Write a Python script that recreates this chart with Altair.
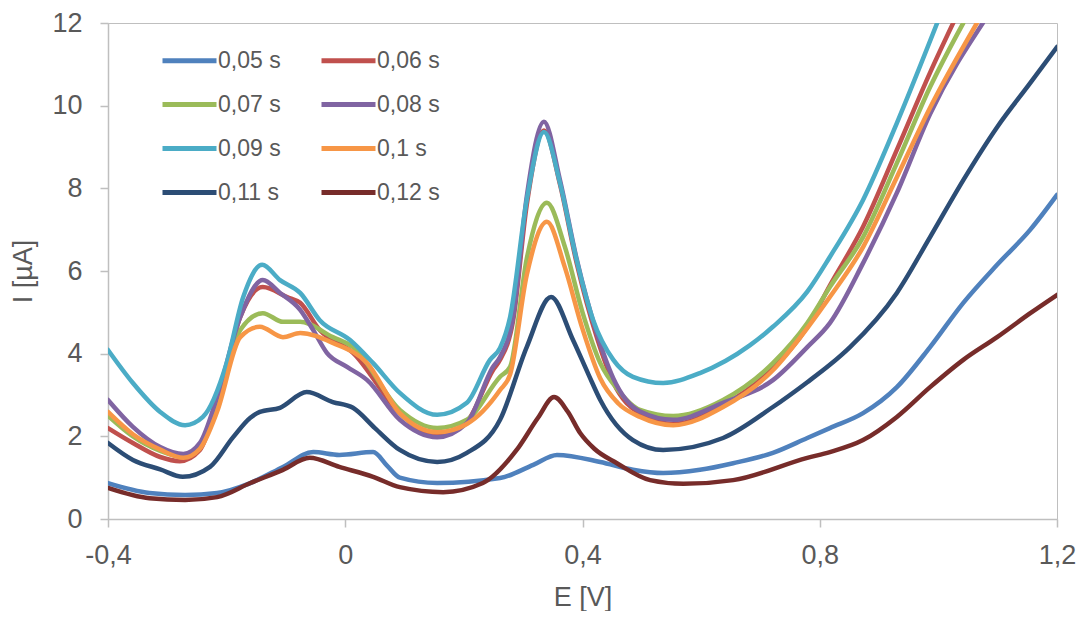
import altair as alt
import pandas as pd

# Series labels and colours
series = ["0,05 s", "0,06 s", "0,07 s", "0,08 s", "0,09 s", "0,1 s", "0,11 s", "0,12 s"]
colors = ["#4F81BD", "#C0504D", "#9BBB59", "#8064A2", "#4BACC6", "#F79646", "#2C4D75", "#772C2A"]

# 0,05 s
e005 = [-0.4, -0.33, -0.27, -0.216, -0.16, -0.105, -0.054, -0.01, 0.047, 0.07, 0.092, 0.155, 0.261, 0.317, 0.357,
        0.43, 0.485, 0.536, 0.598, 0.654, 0.721, 0.779, 0.817, 0.873, 0.93, 0.986, 1.042, 1.099, 1.155, 1.2]
i005 = [0.87, 0.63, 0.58, 0.63, 0.87, 1.26, 1.62, 1.55, 1.62, 1.3, 1.0, 0.87, 0.99, 1.31, 1.55,
        1.38, 1.19, 1.11, 1.19, 1.35, 1.6, 1.96, 2.2, 2.56, 3.19, 4.16, 5.23, 6.15, 7.0, 7.84]

# 0,06 s
e006 = [-0.4, -0.358, -0.312, -0.279, -0.245, -0.216, -0.177, -0.139, -0.098, -0.076, -0.043, 0.013, 0.092, 0.155,
        0.205, 0.249, 0.261, 0.283, 0.306, 0.335, 0.362, 0.39, 0.424, 0.452, 0.497, 0.553, 0.637, 0.721, 0.779,
        0.817, 0.873, 0.93, 0.986, 1.025]
i006 = [2.2, 1.84, 1.5, 1.4, 1.67, 2.81, 4.89, 5.61, 5.37, 5.23, 4.57, 4.02, 2.56, 2.0,
        2.35, 3.6, 3.85, 4.8, 7.6, 9.4, 8.1, 6.2, 4.4, 3.3, 2.55, 2.3, 2.75, 3.65, 4.65,
        5.65, 7.07, 8.93, 10.8, 12.0]

# 0,07 s
e007 = [-0.4, -0.358, -0.312, -0.273, -0.245, -0.216, -0.177, -0.139, -0.105, -0.076, -0.021, 0.013, 0.092, 0.155,
        0.205, 0.261, 0.278, 0.306, 0.34, 0.37, 0.40, 0.43, 0.46, 0.497, 0.553, 0.637, 0.721, 0.779, 0.817,
        0.873, 0.93, 0.986, 1.042]
i007 = [2.5, 2.0, 1.65, 1.5, 1.75, 2.75, 4.57, 4.98, 4.77, 4.77, 4.4, 4.16, 2.64, 2.2,
        2.4, 3.44, 3.68, 6.3, 7.65, 6.6, 5.0, 3.77, 3.12, 2.64, 2.49, 2.88, 3.77, 4.74, 5.61,
        6.82, 8.61, 10.45, 12.0]

# 0,08 s
e008 = [-0.4, -0.358, -0.312, -0.273, -0.245, -0.216, -0.177, -0.139, -0.11, -0.076, -0.054, -0.031, 0.003, 0.037,
        0.092, 0.155, 0.205, 0.249, 0.261, 0.283, 0.306, 0.335, 0.362, 0.39, 0.424, 0.452, 0.497, 0.553, 0.637,
        0.721, 0.779, 0.817, 0.873, 0.93, 0.986, 1.075]
i008 = [2.88, 2.23, 1.74, 1.57, 1.84, 2.95, 4.89, 5.78, 5.47, 5.06, 4.57, 4.02, 3.68, 3.36,
        2.4, 1.98, 2.32, 3.68, 3.92, 4.89, 7.8, 9.61, 8.2, 6.3, 4.5, 3.4, 2.6, 2.4, 2.81,
        3.36, 4.16, 4.74, 6.19, 7.89, 9.8, 12.0]

# 0,09 s
e009 = [-0.4, -0.358, -0.312, -0.27, -0.24, -0.2, -0.172, -0.14, -0.11, -0.076, -0.043, 0.008, 0.047, 0.092,
        0.155, 0.205, 0.244, 0.261, 0.278, 0.306, 0.335, 0.362, 0.39, 0.418, 0.452, 0.485, 0.536, 0.598,
        0.682, 0.721, 0.779, 0.817, 0.873, 0.93, 0.998]
i009 = [4.09, 3.29, 2.59, 2.27, 2.47, 3.77, 5.37, 6.15, 5.78, 5.47, 4.81, 4.33, 3.77, 3.05,
        2.52, 2.81, 3.85, 4.14, 4.89, 7.72, 9.36, 8.13, 6.27, 4.81, 3.85, 3.44, 3.29, 3.53,
        4.2, 4.65, 5.5, 6.34, 7.72, 9.58, 12.0]

# 0,1 s
e010 = [-0.4, -0.358, -0.312, -0.273, -0.245, -0.216, -0.177, -0.144, -0.105, -0.076, -0.021, 0.037, 0.092, 0.155,
        0.205, 0.261, 0.278, 0.306, 0.34, 0.37, 0.40, 0.43, 0.46, 0.497, 0.553, 0.637, 0.721, 0.779, 0.817,
        0.873, 0.93, 0.986, 1.065]
i010 = [2.59, 2.05, 1.68, 1.48, 1.7, 2.6, 4.4, 4.65, 4.4, 4.5, 4.26, 3.77, 2.56, 2.1,
        2.3, 3.12, 3.5, 5.9, 7.19, 6.1, 4.6, 3.4, 2.8, 2.47, 2.27, 2.71, 3.6, 4.62, 5.37,
        6.58, 8.27, 9.95, 12.0]

# 0,11 s
e011 = [-0.4, -0.358, -0.312, -0.274, -0.228, -0.189, -0.16, -0.144, -0.11, -0.065, -0.021, 0.013, 0.05, 0.092,
        0.155, 0.205, 0.261, 0.306, 0.347, 0.384, 0.41, 0.43, 0.485, 0.536, 0.637, 0.721, 0.779, 0.817, 0.851,
        0.93, 0.986, 1.042, 1.099, 1.155, 1.2]
i011 = [1.84, 1.43, 1.2, 1.02, 1.26, 1.98, 2.45, 2.59, 2.69, 3.07, 2.83, 2.69, 2.2, 1.67,
        1.38, 1.6, 2.4, 4.16, 5.37, 4.33, 3.5, 2.88, 1.91, 1.67, 1.96, 2.71, 3.31, 3.73, 4.16,
        5.47, 6.82, 8.2, 9.48, 10.55, 11.42]

# 0,12 s
e012 = [-0.4, -0.33, -0.27, -0.216, -0.16, -0.105, -0.06, -0.01, 0.047, 0.092, 0.165, 0.232, 0.289, 0.325, 0.352,
        0.375, 0.396, 0.42, 0.458, 0.514, 0.57, 0.654, 0.779, 0.817, 0.873, 0.93, 0.986, 1.042, 1.099, 1.155, 1.2]
i012 = [0.75, 0.5, 0.46, 0.53, 0.87, 1.19, 1.48, 1.26, 1.02, 0.77, 0.65, 0.87, 1.67, 2.45, 2.95,
        2.6, 2.08, 1.7, 1.35, 0.94, 0.85, 0.94, 1.48, 1.62, 1.91, 2.47, 3.19, 3.85, 4.4, 4.98, 5.42]

x_ticks = [-0.4, 0, 0.4, 0.8, 1.2]
y_ticks = [0, 2, 4, 6, 8, 10, 12]

all_e = [e005, e006, e007, e008, e009, e010, e011, e012]
all_i = [i005, i006, i007, i008, i009, i010, i011, i012]

rows = []
for name, es, is_ in zip(series, all_e, all_i):
    for k, (e, i) in enumerate(zip(es, is_)):
        rows.append({"series": name, "E": e, "I": i, "order": k})
df = pd.DataFrame(rows)

FONT = "Liberation Sans"
TXT = "#595959"
GRAY = "#BFBFBF"

chart = alt.Chart(df).mark_line(
    strokeWidth=4.5, interpolate="monotone", clip=True, strokeCap="round", strokeJoin="round"
).encode(
    x=alt.X("E:Q", scale=alt.Scale(domain=[-0.4, 1.2], nice=False, zero=False),
            axis=alt.Axis(values=x_ticks, title="E [V]", grid=False, tickSize=8, labelFlush=False,
                          labelExpr="replace(toString(datum.value), '.', ',')",
                          labelPadding=15, titlePadding=16)),
    y=alt.Y("I:Q", scale=alt.Scale(domain=[0, 12], nice=False),
            axis=alt.Axis(values=y_ticks, title="I [µA]", grid=False, tickSize=8, labelFlush=False,
                          labelPadding=18, titlePadding=14)),
    color=alt.Color("series:N", scale=alt.Scale(domain=series, range=colors), sort=series,
                    legend=alt.Legend(orient="none", legendX=52, legendY=25, columns=2, direction="horizontal",
                                      title=None,
                                      symbolType="M-1,0H4.4", symbolSize=400, symbolStrokeWidth=5,
                                      labelOffset=33, labelFontSize=23, labelColor=TXT, labelFont=FONT,
                                      columnPadding=30, rowPadding=19, padding=0)),
    order="order:Q",
).properties(
    width=949, height=496,
    autosize=alt.AutoSizeParams(type="none"),
    padding={"left": 100, "top": 15, "right": 20, "bottom": 92},
).configure_view(
    stroke=GRAY, strokeWidth=1
).configure_axis(
    domainColor=GRAY, domainWidth=1.5, tickColor=GRAY, tickWidth=1.5,
    labelFont=FONT, labelFontSize=27, labelColor=TXT,
    titleFont=FONT, titleFontSize=27, titleColor=TXT, titleFontWeight="normal",
)

chart.save("out.html", embed_options={"renderer": "svg", "actions": False})
